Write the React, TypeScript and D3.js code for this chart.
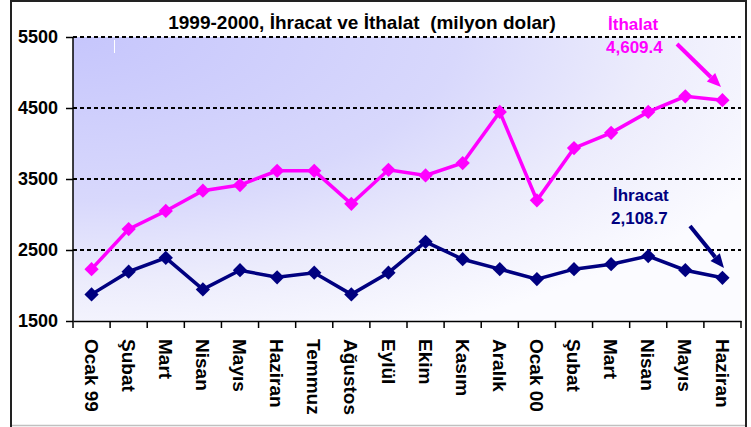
import React, { useEffect, useRef } from 'react';
import * as d3 from 'd3';

const months = [
  'Ocak 99', 'Şubat', 'Mart', 'Nisan', 'Mayıs', 'Haziran', 'Temmuz', 'Ağustos', 'Eylül',
  'Ekim', 'Kasım', 'Aralık', 'Ocak 00', 'Şubat', 'Mart', 'Nisan', 'Mayıs', 'Haziran',
];
const ithalat = [
  2230, 2795, 3050, 3335, 3415, 3615, 3615, 3150, 3630,
  3550, 3725, 4445, 3200, 3935, 4150, 4445, 4665, 4609.4,
];
const ihracat = [
  1875, 2195, 2390, 1945, 2215, 2115, 2180, 1875, 2180,
  2615, 2370, 2230, 2090, 2230, 2300, 2415, 2215, 2108.7,
];
const yTicks = [1500, 2500, 3500, 4500, 5500];
const gridValues = [2500, 3500, 4500, 5500];

const W = 751;
const H = 427;
const FONT = "Arial, 'Liberation Sans', sans-serif";

function App() {
  const svgRef = useRef<SVGSVGElement | null>(null);

  useEffect(() => {
    const svg = d3.select(svgRef.current);
    svg.selectAll('*').remove();

    const margin = { top: 37, left: 73, right: 10, bottom: 106 };
    const innerWidth = W - margin.left - margin.right;
    const innerHeight = H - margin.top - margin.bottom;

    // outer frame
    svg.append('rect')
      .attr('x', 0).attr('y', 0).attr('width', W).attr('height', H)
      .attr('fill', '#ffffff');
    svg.append('line')
      .attr('x1', 11).attr('x2', 747).attr('y1', 425.5).attr('y2', 425.5)
      .attr('stroke', '#c0c0c0').attr('stroke-width', 1.5);
    svg.append('rect')
      .attr('x', 11).attr('y', 1).attr('width', 735).attr('height', 430)
      .attr('fill', 'none').attr('stroke', '#222').attr('stroke-width', 2);

    // plot background: lavender fading out from the top-left corner
    const defs = svg.append('defs');
    const grad = defs.append('radialGradient')
      .attr('id', 'bg')
      .attr('cx', 0).attr('cy', 0).attr('fx', 0).attr('fy', 0).attr('r', 1.15);
    grad.append('stop').attr('offset', '0%').attr('stop-color', '#c6c6fc');
    grad.append('stop').attr('offset', '50%').attr('stop-color', '#d8d8fc');
    grad.append('stop').attr('offset', '75%').attr('stop-color', '#ececfc');
    grad.append('stop').attr('offset', '100%').attr('stop-color', '#fbfbff');

    const g = svg.append('g')
      .attr('transform', `translate(${margin.left},${margin.top})`);

    g.append('rect')
      .attr('width', innerWidth).attr('height', innerHeight)
      .attr('fill', 'url(#bg)');

    // small artifact line
    g.append('line')
      .attr('x1', 41.5).attr('x2', 41.5).attr('y1', 3).attr('y2', 16)
      .attr('stroke', '#ffffff').attr('stroke-width', 1);

    const x = d3.scaleBand<number>()
      .domain(d3.range(months.length))
      .range([0, innerWidth]);
    const y = d3.scaleLinear().domain([1500, 5500]).range([innerHeight, 0]);
    const cx = (i: number) => (x(i) as number) + x.bandwidth() / 2;

    // gridlines
    g.selectAll('line.grid')
      .data(gridValues)
      .enter()
      .append('line')
      .attr('class', 'grid')
      .attr('x1', 0).attr('x2', innerWidth)
      .attr('y1', (d) => y(d)).attr('y2', (d) => y(d))
      .attr('stroke', '#000').attr('stroke-width', 2)
      .attr('stroke-dasharray', '4,3');

    // y axis
    const yAxis = g.append('g').call(
      d3.axisLeft(y).tickValues(yTicks).tickSize(7).tickPadding(8).tickFormat(d3.format('d'))
    );
    yAxis.select('.domain').attr('stroke', '#000').attr('stroke-width', 1.5)
      .attr('d', `M0,0V${innerHeight}`);
    yAxis.selectAll('.tick line').attr('stroke', '#000').attr('stroke-width', 1.5);
    yAxis.selectAll('.tick text')
      .attr('font-family', FONT).attr('font-size', 18).attr('font-weight', 'bold')
      .attr('fill', '#000');

    // x axis
    const xAxis = g.append('g')
      .attr('transform', `translate(0,${innerHeight})`)
      .call(d3.axisBottom(x).tickSize(0).tickFormat(() => ''));
    xAxis.select('.domain').attr('stroke', '#000').attr('stroke-width', 1.5);
    xAxis.selectAll('line.xt')
      .data(d3.range(months.length + 1))
      .enter()
      .append('line')
      .attr('class', 'xt')
      .attr('x1', (d) => d * x.step()).attr('x2', (d) => d * x.step())
      .attr('y1', 0).attr('y2', 7)
      .attr('stroke', '#000').attr('stroke-width', 1.5);
    xAxis.selectAll('text.lbl')
      .data(months)
      .enter()
      .append('text')
      .attr('class', 'lbl')
      .attr('transform', (_d, i) => `translate(${cx(i)},18) rotate(90)`)
      .attr('text-anchor', 'start')
      .attr('dy', '0.36em')
      .attr('font-family', FONT).attr('font-size', 19).attr('font-weight', 'bold')
      .attr('fill', '#000')
      .text((d) => d);

    // series
    const series = [
      { values: ithalat, color: '#ff00ff' },
      { values: ihracat, color: '#000080' },
    ];
    const line = d3.line<number>()
      .x((_d, i) => cx(i))
      .y((d) => y(d));
    const diamond = d3.symbol().type(d3.symbolDiamond2).size(130);

    series.forEach((s) => {
      g.append('path')
        .datum(s.values)
        .attr('d', line)
        .attr('fill', 'none')
        .attr('stroke', s.color)
        .attr('stroke-width', 3.5);
      g.selectAll(null)
        .data(s.values)
        .enter()
        .append('path')
        .attr('d', diamond)
        .attr('transform', (d, i) => `translate(${cx(i)},${y(d)})`)
        .attr('fill', s.color);
    });

    // title
    svg.append('text')
      .attr('x', 362).attr('y', 29)
      .attr('text-anchor', 'middle')
      .attr('font-family', FONT).attr('font-size', 19).attr('font-weight', 'bold')
      .attr('fill', '#000')
      .attr('xml:space', 'preserve')
      .text('1999-2000, İhracat ve İthalat  (milyon dolar)');

    // annotations
    const fmt = d3.format(',.1f');
    const last = months.length - 1;
    const notes = [
      { name: 'İthalat', value: ithalat[last], color: '#ff00ff', tx: 608, ty: 30, a: [677, 44, 721, 87] },
      { name: 'İhracat', value: ihracat[last], color: '#000080', tx: 613, ty: 201, a: [690, 226, 724, 268] },
    ];
    notes.forEach((n) => {
      svg.append('text')
        .attr('x', n.tx).attr('y', n.ty)
        .attr('font-family', FONT).attr('font-size', 17).attr('font-weight', 'bold')
        .attr('fill', n.color)
        .text(n.name);
      svg.append('text')
        .attr('x', n.tx - 2).attr('y', n.ty + 23)
        .attr('font-family', FONT).attr('font-size', 17).attr('font-weight', 'bold')
        .attr('fill', n.color)
        .text(fmt(n.value));
      const [x1, y1, x2, y2] = n.a;
      const ang = Math.atan2(y2 - y1, x2 - x1);
      const hl = 14;
      const hw = 6;
      const bx = x2 - hl * Math.cos(ang);
      const by = y2 - hl * Math.sin(ang);
      svg.append('line')
        .attr('x1', x1).attr('y1', y1).attr('x2', bx).attr('y2', by)
        .attr('stroke', n.color).attr('stroke-width', 4);
      svg.append('path')
        .attr('d', `M${x2},${y2}L${bx - hw * Math.sin(ang)},${by + hw * Math.cos(ang)}L${bx + hw * Math.sin(ang)},${by - hw * Math.cos(ang)}Z`)
        .attr('fill', n.color);
    });
  }, []);

  return (
    <svg
      ref={svgRef}
      width={W}
      height={H}
      style={{ position: 'absolute', left: 0, top: 0, display: 'block' }}
    />
  );
}

export default App;
